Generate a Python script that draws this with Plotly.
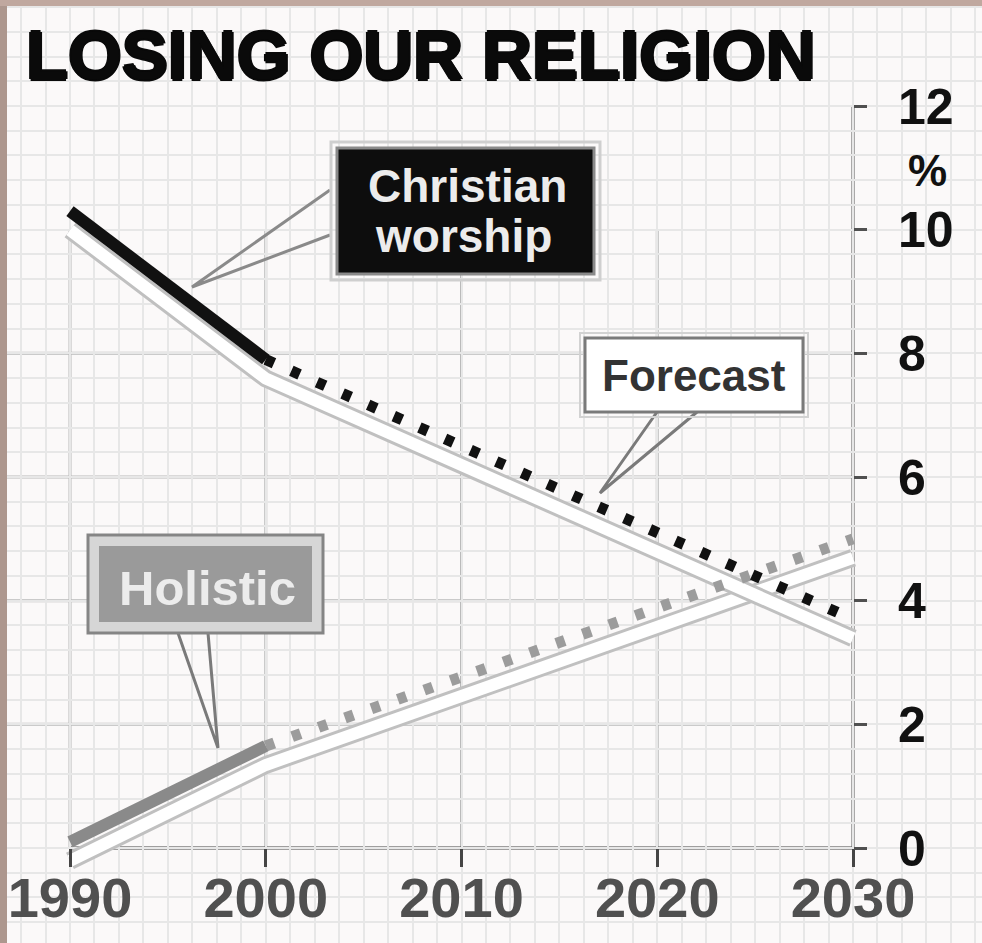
import plotly.graph_objects as go

# ---------------- data ----------------
title_text = "LOSING OUR RELIGION"
years_actual = [1990, 2000]
years_forecast = [2000, 2030]
christian_actual = [10.3, 7.9]
christian_forecast = [7.9, 3.7]
holistic_actual = [0.1, 1.65]
holistic_forecast = [1.65, 5.0]
x_tick_vals = [1990, 2000, 2010, 2020, 2030]
x_tick_text = ["1990", "2000", "2010", "2020", "2030"]
y_tick_vals = [0, 2, 4, 6, 8, 10, 12]
y_tick_text = ["0", "2", "4", "6", "8", "10", "12"]
grid_x_vals = [1990, 2000, 2010, 2020]
grid_y_vals = [2, 4, 6, 8]
label_christian = ["Christian", "worship"]
label_forecast = "Forecast"
label_holistic = "Holistic"
unit_label = "%"

# ---------------- geometry ----------------
W, H = 982, 943
X0_PX, X1_PX = 70, 853      # pixel of 1990 and 2030
Y0_PX, Y12_PX = 848, 106    # pixel of 0 and 12
ppy = (X1_PX - X0_PX) / 40.0
ppu = (Y0_PX - Y12_PX) / 12.0
x_range = [1990 - X0_PX / ppy, 1990 + (W - X0_PX) / ppy]
y_range = [0 - (H - Y0_PX) / ppu, Y0_PX / ppu]
SHADOW = 19 / ppu


def px(x):
    return x / W


def py(y):
    return 1 - y / H


FONT = "Liberation Sans"


def heavy(c, r=1.2):
    return (f"{r}px 0 0 {c}, -{r}px 0 0 {c}, 0 {r}px 0 {c}, 0 -{r}px 0 {c}")


fig = go.Figure()

# shadows (white band with grey edges)
for ys_a, ys_f in [(holistic_actual, holistic_forecast), (christian_actual, christian_forecast)]:
    xs = years_actual + years_forecast[1:]
    ys = [v - SHADOW for v in ys_a + ys_f[1:]]
    fig.add_trace(go.Scatter(x=xs, y=ys, mode="lines", line=dict(color="#c0c0c0", width=18),
                             hoverinfo="skip", showlegend=False))
    fig.add_trace(go.Scatter(x=xs, y=ys, mode="lines", line=dict(color="#ffffff", width=12),
                             hoverinfo="skip", showlegend=False))

DOTS = "9px,19px"
fig.add_trace(go.Scatter(x=years_forecast, y=holistic_forecast, mode="lines",
                         line=dict(color="#9c9c9c", width=11, dash=DOTS), showlegend=False))
fig.add_trace(go.Scatter(x=years_actual, y=holistic_actual, mode="lines",
                         line=dict(color="#8a8a8a", width=12), showlegend=False))
fig.add_trace(go.Scatter(x=years_forecast, y=christian_forecast, mode="lines",
                         line=dict(color="#111111", width=11, dash=DOTS), showlegend=False))
# this trace lives on the overlaid label axis (same range as y)
fig.add_trace(go.Scatter(x=years_actual, y=christian_actual, mode="lines", yaxis="y2",
                         line=dict(color="#111111", width=12), showlegend=False))

shapes = []
# major grid
for gx in grid_x_vals:
    shapes.append(dict(type="line", xref="x", yref="y", x0=gx, x1=gx, y0=0, y1=10,
                       line=dict(color="#bababa", width=3), layer="below"))
for gy in grid_y_vals:
    shapes.append(dict(type="line", xref="x", yref="y", x0=x_range[0], x1=2030, y0=gy, y1=gy,
                       line=dict(color="#bababa", width=3), layer="below"))
# axis lines
shapes.append(dict(type="line", xref="x", yref="y", x0=1990, x1=2030, y0=0, y1=0,
                   line=dict(color="#454545", width=3), layer="below"))
shapes.append(dict(type="line", xref="x", yref="y", x0=2030, x1=2030, y0=0, y1=12,
                   line=dict(color="#5a5a5a", width=3), layer="below"))

# frame edges
shapes.append(dict(type="rect", xref="paper", yref="paper", x0=0, x1=px(7), y0=0, y1=1,
                   fillcolor="#ad978e", line=dict(width=0), layer="above"))
shapes.append(dict(type="rect", xref="paper", yref="paper", x0=0, x1=1, y0=py(6), y1=1,
                   fillcolor="#c0a89f", line=dict(width=0), layer="above"))


def rect(x0, y0, x1, y1, fill, lc, lw):
    return dict(type="rect", xref="paper", yref="paper", x0=px(x0), x1=px(x1), y0=py(y1), y1=py(y0),
                fillcolor=fill, line=dict(color=lc, width=lw), layer="above")


def path(points, color, width):
    d = "M " + " L ".join(f"{px(a)},{py(b)}" for a, b in points)
    return dict(type="path", xref="paper", yref="paper", path=d,
                line=dict(color=color, width=width), layer="above")


# leaders
shapes.append(path([(330, 190), (192, 287), (330, 235)], "#8a8a8a", 3))
shapes.append(path([(657, 412), (600, 493), (697, 412)], "#7a7a7a", 3))
shapes.append(path([(178, 633), (218, 748), (208, 633)], "#7a7a7a", 3))

# boxes
shapes.append(rect(331, 142, 600, 280, "rgba(0,0,0,0)", "#cfcfcf", 3))
shapes.append(rect(337, 148, 594, 274, "#0d0d0d", "#8a8a8a", 3))
shapes.append(rect(580, 333, 808, 417, "rgba(0,0,0,0)", "#d2d2d2", 2))
shapes.append(rect(585, 338, 803, 412, "#ffffff", "#7a7a7a", 3))
shapes.append(rect(88, 535, 323, 633, "#d6d6d6", "#858585", 3))
shapes.append(rect(99, 546, 312, 622, "#9a9a9a", "#9a9a9a", 0))


def ann(text, x, y, size, color, xanchor="center", shadow=None):
    f = dict(family=FONT, size=size, color=color, weight="bold")
    if shadow:
        f["shadow"] = shadow
    return dict(text=text, x=px(x), y=py(y), xref="paper", yref="paper", xanchor=xanchor,
                yanchor="middle", showarrow=False, font=f)


annotations = [
    ann(title_text, 24, 56, 69, "#0a0a0a", xanchor="left", shadow=heavy("#0a0a0a", 1.6)),
    ann(label_christian[0], 467, 186, 46, "#ececec"),
    ann(label_christian[1], 463, 236, 46, "#ececec"),
    ann(label_forecast, 694, 375, 44, "#333333"),
    ann(label_holistic, 207, 588, 49, "#ececec"),
    ann(unit_label, 927, 170, 44, "#111111"),
]

fig.update_layout(
    width=W, height=H, autosize=False,
    margin=dict(l=0, r=0, t=0, b=0, pad=0),
    paper_bgcolor="#fbf9f9", plot_bgcolor="#fbf9f9",
    showlegend=False,
    shapes=shapes, annotations=annotations,
    xaxis=dict(range=x_range, anchor="free", position=(H - Y0_PX) / H, domain=[0, 1],
               showgrid=False, zeroline=False, showline=False, automargin=False,
               tickmode="array", tickvals=x_tick_vals, ticktext=x_tick_text,
               ticks="outside", ticklen=18, tickwidth=3, tickcolor="#454545",
               ticklabelstandoff=-17,
               tickfont=dict(family=FONT, size=56, color="#505050", weight="bold"),
               minor=dict(showgrid=True, tickmode="linear", tick0=1990, dtick=1.25,
                          gridcolor="#e7e7e7", gridwidth=2),
               fixedrange=True),
    # tick marks only
    yaxis=dict(range=y_range, anchor="free", position=X1_PX / W, side="right", domain=[0, 1],
               showgrid=False, zeroline=False, showline=False, automargin=False,
               tickmode="array", tickvals=y_tick_vals, showticklabels=False,
               ticks="outside", ticklen=13, tickwidth=3, tickcolor="#505050",
               minor=dict(showgrid=True, tickmode="linear", tick0=0, dtick=0.4,
                          gridcolor="#e7e7e7", gridwidth=2),
               fixedrange=True),
    # tick labels only
    yaxis2=dict(range=y_range, overlaying="y", anchor="free", position=897 / W, side="right",
                showgrid=False, zeroline=False, showline=False, automargin=False,
                tickmode="array", tickvals=y_tick_vals, ticktext=y_tick_text, ticks="",
                tickfont=dict(family=FONT, size=50, color="#111111", weight="bold"),
                fixedrange=True),
)

fig.write_html("out.html", config={"displayModeBar": False},
               post_script="document.body.style.margin='0';document.body.style.overflow='hidden';")
